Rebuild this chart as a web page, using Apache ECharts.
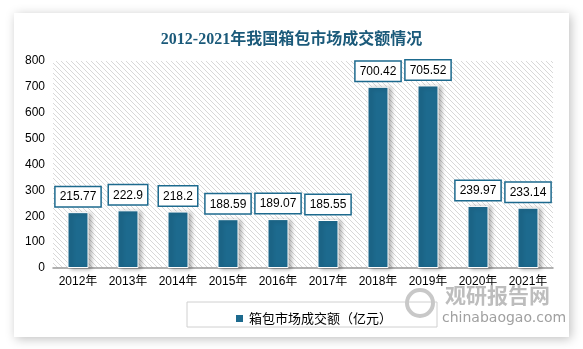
<!DOCTYPE html>
<html><head><meta charset="utf-8">
<script src="https://cdn.jsdelivr.net/npm/echarts@6/dist/echarts.min.js"></script>
<style>html,body{margin:0;padding:0;background:#fff;}#c{width:583px;height:349px;}</style>
</head><body><div id="c"></div>
<script>
var categories = ['2012年','2013年','2014年','2015年','2016年','2017年','2018年','2019年','2020年','2021年'];
var values = [215.77, 222.9, 218.2, 188.59, 189.07, 185.55, 700.42, 705.52, 239.97, 233.14];
var seriesName = '箱包市场成交额（亿元）';
var titleText = '2012-2021年我国箱包市场成交额情况';

var pc = document.createElement('canvas');
pc.width = 5; pc.height = 5;
var ctx = pc.getContext('2d');
ctx.fillStyle = '#ffffff'; ctx.fillRect(0,0,5,5);
ctx.strokeStyle = '#d8d8d8'; ctx.lineWidth = 1;
ctx.beginPath(); ctx.moveTo(-1,-1); ctx.lineTo(6,6); ctx.stroke();

var chart = echarts.init(document.getElementById('c'), null, {renderer:'canvas'});
chart.setOption({
  backgroundColor: '#fff',
  animation: false,
  graphic: [
    {type:'rect', z:-10, shape:{x:14,y:13,width:555,height:324}, style:{fill:'#fff', shadowBlur:10, shadowColor:'rgba(0,0,0,0.25)', shadowOffsetX:2, shadowOffsetY:2}},
    {type:'rect', z:-5, shape:{x:187,y:302,width:250,height:25}, style:{fill:'#fff', stroke:'#d0d0d0', lineWidth:1}},
    {type:'text', z:6, left:445, top:285, style:{text:'观研报告网', font:'bold 21px "Noto Sans CJK SC"', fill:'#bdbdbd'}},
    {type:'text', z:6, left:442, top:311, style:{text:'chinabaogao.com', font:'14px "DejaVu Sans"', fill:'#a0a0a0'}},
    {type:'circle', z:6, shape:{cx:420,cy:303,r:13}, style:{fill:'none', stroke:'#c8c8c8', lineWidth:4}}
  ],
  title: {
    text: titleText, left: 'center', top: 27,
    textStyle: {fontFamily:'"Liberation Serif","Noto Sans CJK SC"', fontWeight:'bold', fontSize:16, color:'#1b5a7a'}
  },
  legend: {
    data:[seriesName], left: 229, top: 307, itemWidth: 9, itemHeight: 9, itemGap: 5, z: 10,
    icon: 'rect',
    textStyle: {fontFamily:'"Noto Sans CJK SC"', fontSize:13, color:'#000'}
  },
  grid: {left:53, right:30, top:61, bottom:81, show:true, borderWidth:0,
    backgroundColor: {image: pc, repeat: 'repeat'}},
  xAxis: {
    type:'category', data: categories,
    axisLine:{lineStyle:{color:'#999', width:1.5}}, axisTick:{show:false},
    axisLabel:{color:'#000', fontSize:12, margin:8, interval:0, fontFamily:'"Liberation Sans","Noto Sans CJK SC"'}
  },
  yAxis: {
    type:'value', min:0, max:800, interval:100,
    axisLine:{show:false}, axisTick:{show:false}, splitLine:{show:false},
    axisLabel:{color:'#000', fontSize:12, margin:8, fontFamily:'"Liberation Sans"'}
  },
  series: [{
    name: seriesName, type:'bar', data: values, barWidth: 21,
    itemStyle:{color:'#1d6a8e', borderColor:'#fff', borderWidth:1, shadowColor:'rgba(0,0,0,0.3)', shadowBlur:4, shadowOffsetX:3, shadowOffsetY:1},
    label:{show:true, position:'top', distance:6, color:'#000', fontSize:12, fontFamily:'"Liberation Sans"',
      backgroundColor:'#fff', borderColor:'#1d6a8e', borderWidth:1.5, padding:[4,4,3,4]}
  }]
});
</script></body></html>
